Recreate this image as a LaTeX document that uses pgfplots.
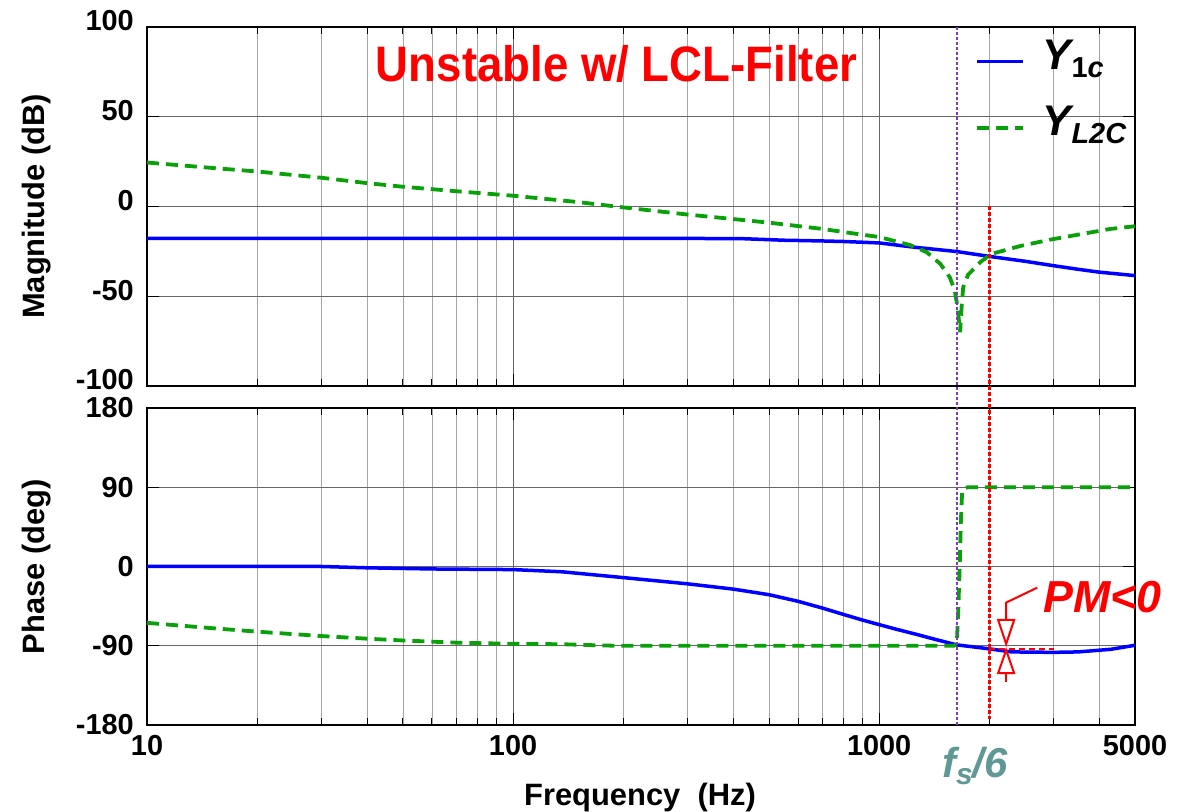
\documentclass[border=0pt]{standalone}
\usepackage{fontspec}
\setmainfont{Liberation Sans}
\usepackage{graphicx}
\usepackage{pgfplots}
\pgfplotsset{compat=1.18}

\definecolor{yblue}{RGB}{0,0,255}
\definecolor{ygreen}{RGB}{10,160,10}
\definecolor{fsline}{RGB}{125,60,190}
\definecolor{fstext}{RGB}{96,152,150}
\definecolor{pmred}{RGB}{255,0,0}

% magnitude of Y_1c (dB)
\pgfplotstableread{
f     v
10    -17.8
30    -17.8
100   -17.8
300   -17.8
420   -17.9
550   -18.8
700   -19.2
800   -19.5
1000  -20.3
1250  -22.7
1630  -25.1
2000  -27.8
2500  -30.5
3000  -33
3500  -35
4000  -36.6
4500  -37.6
5000  -38.5
}\magone
% magnitude of Y_L2C (dB)
\pgfplotstableread{
f     v
10    24.5
15    21.5
20    19.5
30    16
40    13
50    11
70    8.5
100   6
150   2.5
200   -0.5
300   -4.5
400   -7
500   -9
700   -12.5
850   -15
1000  -17
1216  -21.5
1350  -25.5
1470  -32
1560  -39.5
1610  -47
1640  -57
1664  -70
1680  -56
1697  -45
1750  -38
1890  -31
2020  -26.5
2430  -22
2930  -18.5
3540  -15.5
4280  -12.5
5000  -11
}\magtwo
% phase of Y_1c (deg)
\pgfplotstableread{
f     v
10    0
30    0
40    -1.5
60    -2.8
100   -3.5
136   -6
200   -12.6
300   -19.7
400   -25.7
500   -32
600   -39.5
700   -47.2
800   -54.5
900   -60.8
1000  -66
1120  -71.5
1250  -76.5
1430  -83
1630  -89
2000  -93.5
2300  -97
3000  -97.5
3500  -97
4300  -94
5000  -89.5
}\phaone
% phase of Y_L2C (deg)
\pgfplotstableread{
f     v
10    -64
15    -70
20    -74
30    -79
40    -82
50    -84
70    -86.5
100   -87.8
137   -88.3
160   -89.2
190   -90
500   -90
1000  -90
1600  -90
1630  -88
1645  -50
1660  0
1672  50
1685  84
1710  89
1750  90
5000  90
}\phatwo

\newcommand\sub[1]{\raisebox{-8bp}{\fontsize{29}{29}\selectfont #1}}

\pgfplotsset{
  every axis/.append style={
    scale only axis, width=988bp,
    xmin=10, xmax=5000, enlargelimits=false, clip=false,
    xtick={10,100,1000,5000},
    minor xtick={20,30,40,50,60,70,80,90,200,300,400,500,600,700,800,900,2000,3000,4000},
    grid=both,
    major grid style={black!60, line width=0.7bp},
    minor grid style={black!35, line width=0.7bp},
    axis line style={line width=1.5bp},
    tick style={black, line width=0.8bp},
    major tick length=12bp, minor tick length=7bp,
    tick align=inside,
    ticklabel style={font=\fontsize{29}{29}\selectfont\bfseries},
    yticklabel style={inner sep=0pt, xshift=-13bp},
    xticklabel style={inner sep=0pt, anchor=north, yshift=-10bp},
    label style={font=\fontsize{31}{31}\selectfont\bfseries},
    ylabel style={at={(axis description cs:-0.1113,0.5)}, anchor=center},
  },
}

\begin{document}
\begin{tikzpicture}
\useasboundingbox (0,0) rectangle (1190bp,812bp);

% magnitude
\begin{semilogxaxis}[
  at={(147bp,426bp)}, anchor=south west, height=359bp,
  ymin=-100, ymax=100,
  ytick={-100,-50,0,50,100}, yticklabels={-100,-50,0,50,100},
  yticklabel style={yshift=6bp},
  xticklabels={},
  ylabel={Magnitude (dB)},
  legend style={draw=none, fill=none, at={(rel axis cs:0.835,0.975)}, anchor=north west,
    font=\fontsize{43}{43}\selectfont\bfseries\itshape,
    nodes={inner sep=2bp}, row sep=31bp,
    /tikz/every odd column/.append style={column sep=16bp}},
  legend cell align=left,
  legend image code/.code={\draw[#1] (0bp,-6bp) -- (46bp,-6bp);},
]
\addplot[yblue, line width=3.5bp] table[x=f, y=v] {\magone};
\addplot[ygreen, line width=3.8bp, dash pattern=on 12bp off 7bp] table[x=f, y=v] {\magtwo};
\legend{Y\sub{\upshape 1\itshape c}, Y\sub{L2C}}
\node[anchor=base, text=pmred, font=\fontsize{50}{50}\selectfont\bfseries]
  at (rel axis cs:0.4752,0.8468) {\scalebox{0.915}[1]{Unstable w/ LCL-Filter}};
\coordinate (ptop) at (axis cs:1630,100);
\coordinate (rtop) at (axis cs:2000,0);
\end{semilogxaxis}

% phase
\begin{semilogxaxis}[
  at={(147bp,87bp)}, anchor=south west, height=317bp,
  ymin=-180, ymax=180,
  ytick={-180,-90,0,90,180}, yticklabels={-180,-90,0,90,180},
  xticklabels={10,100,1000,5000},
  ylabel={Phase (deg)},
  xlabel={Frequency\ \ (Hz)},
  xlabel style={at={(axis description cs:0.499,-0.2555)}, anchor=base},
]
\addplot[yblue, line width=3.5bp] table[x=f, y=v] {\phaone};
\addplot[ygreen, line width=3.8bp, dash pattern=on 12bp off 7bp] table[x=f, y=v] {\phatwo};
% phase margin marker
\draw[pmred, line width=2bp, dash pattern=on 6bp off 4bp] (axis cs:2000,-93.5) -- (axis cs:3000,-93.5);
\draw[pmred, line width=2bp] (axis cs:2704,-24) -- (axis cs:2223,-41) -- (axis cs:2223,-60);
\draw[pmred, line width=2bp] (axis cs:2223,-121) -- (axis cs:2223,-131);
\coordinate (pmA) at (axis cs:2223,-88);
\coordinate (pmB) at (axis cs:2223,-95);
\node[anchor=base west, text=pmred, inner sep=0pt, font=\fontsize{45}{45}\selectfont\bfseries\itshape]
  at (axis cs:2806,-52) {PM<0};
\node[anchor=base west, text=fstext, inner sep=0pt, font=\fontsize{42}{42}\selectfont\bfseries\itshape]
  at (rel axis cs:0.8047,0) [yshift=-52bp] {f\raisebox{-7bp}{\fontsize{30}{30}\selectfont s}/6};
\coordinate (pbot) at (axis cs:1630,-180);
\coordinate (rbot) at (axis cs:2000,-173);
\end{semilogxaxis}

% phase margin arrow heads
\draw[pmred, line width=2bp, fill=white] (pmA) -- ++(-8bp,24bp) -- ++(16bp,0bp) -- cycle;
\draw[pmred, line width=2bp, fill=white] (pmB) -- ++(-8bp,-23bp) -- ++(16bp,0bp) -- cycle;
% f_s/6 and crossover markers spanning both plots
\draw[fsline, line width=2.2bp, dash pattern=on 3bp off 2bp] (ptop) -- (pbot);
\draw[pmred, line width=3bp, dash pattern=on 4bp off 2bp] (rtop) -- (rbot);
\end{tikzpicture}
\end{document}
